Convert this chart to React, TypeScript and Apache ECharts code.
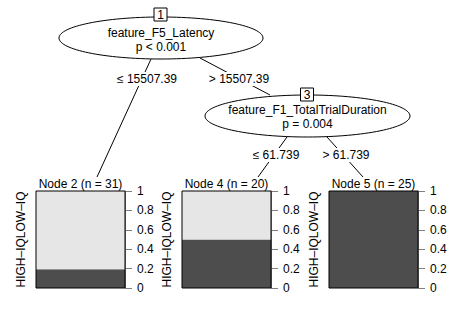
import React, { useEffect, useRef } from 'react';
import * as echarts from 'echarts';

// ---- data ----
const leafTitles = ['Node 2 (n = 31)', 'Node 4 (n = 20)', 'Node 5 (n = 25)'];
const classAxisLabel = 'HIGH–IQLOW–IQ';
const highIQ = [0.194, 0.5, 1.0];
const lowIQ = [0.806, 0.5, 0.0];
const innerIds = ['1', '3'];
const innerVars = ['feature_F5_Latency', 'feature_F1_TotalTrialDuration'];
const innerP = ['p < 0.001', 'p = 0.004'];
const splitLabels = ['≤ 15507.39', '> 15507.39', '≤ 61.739', '> 61.739'];

const FONT = '"Liberation Sans", Arial, Helvetica, sans-serif';
const DARK = '#4D4D4D';
const LIGHT = '#E6E6E6';

const gridLefts = [36, 182, 329];
const GRID_TOP = 191;
const GRID_W = 89;
const GRID_H = 97;

function txt(text: string, x: number, y: number, extra: any = {}) {
  return {
    type: 'text',
    x,
    y,
    z: 20,
    ...extra,
    style: {
      text,
      fill: '#000',
      fontSize: 12,
      fontFamily: FONT,
      align: 'center',
      verticalAlign: 'middle',
      ...(extra.style || {}),
    },
  };
}

export default function App() {
  const ref = useRef<HTMLDivElement>(null);
  useEffect(() => {
    if (!ref.current) return;
    const chart = echarts.init(ref.current, undefined, { renderer: 'svg' });

    const grids = gridLefts.map((l) => ({
      left: l,
      top: GRID_TOP,
      width: GRID_W,
      height: GRID_H,
      show: true,
      z: 10,
      borderColor: '#000',
      borderWidth: 1,
      backgroundColor: 'transparent',
    }));
    const xAxes = gridLefts.map((_, i) => ({
      type: 'category',
      gridIndex: i,
      data: [leafTitles[i]],
      show: false,
    }));
    const yAxes = gridLefts.map((_, i) => ({
      type: 'value',
      gridIndex: i,
      position: 'right',
      min: 0,
      max: 1,
      interval: 0.2,
      splitLine: { show: false },
      axisLine: { show: true, lineStyle: { color: '#808080', width: 1 } },
      axisTick: { show: true, length: 7, lineStyle: { color: '#808080' } },
      axisLabel: { margin: 12, color: '#000', fontSize: 12, fontFamily: FONT },
    }));
    const series: any[] = [];
    gridLefts.forEach((_, i) => {
      series.push({
        type: 'bar',
        name: 'HIGH-IQ',
        xAxisIndex: i,
        yAxisIndex: i,
        stack: 's' + i,
        barCategoryGap: '0%',
        data: [highIQ[i]],
        itemStyle: { color: DARK },
      });
      series.push({
        type: 'bar',
        name: 'LOW-IQ',
        xAxisIndex: i,
        yAxisIndex: i,
        stack: 's' + i,
        barCategoryGap: '0%',
        data: [lowIQ[i]],
        itemStyle: { color: LIGHT },
      });
    });

    const line = (x1: number, y1: number, x2: number, y2: number) => ({
      type: 'line',
      z: 5,
      shape: { x1, y1, x2, y2 },
      style: { stroke: '#000', lineWidth: 1 },
    });
    const ellipse = (cx: number, cy: number, rx: number, ry: number) => ({
      type: 'ellipse',
      z: 8,
      shape: { cx, cy, rx, ry },
      style: { fill: '#fff', stroke: '#000', lineWidth: 1 },
    });
    const idBox = (cx: number, cy: number) => ({
      type: 'rect',
      z: 9,
      shape: { x: cx - 6.5, y: cy - 6.5, width: 13, height: 13 },
      style: { fill: '#fff', stroke: '#000', lineWidth: 1 },
    });
    const edgeLabel = (t: string, x: number, y: number) =>
      txt(t, x, y, { z: 15, style: { backgroundColor: '#fff', padding: [1, 1] } });

    const graphic: any[] = [
      // edges
      line(151, 59, 97, 177),
      line(200, 58, 270, 95),
      line(287, 137, 258, 177),
      line(327, 137, 363, 177),
      // inner node 1
      ellipse(161, 38, 102, 21),
      idBox(160.5, 14.5),
      txt(innerIds[0], 160.5, 15),
      txt(innerVars[0], 161, 33),
      txt(innerP[0], 161, 47),
      // inner node 3
      ellipse(307.5, 116, 102.5, 21),
      idBox(307, 94.5),
      txt(innerIds[1], 307, 95),
      txt(innerVars[1], 307.5, 110),
      txt(innerP[1], 307.5, 124),
      // split labels
      edgeLabel(splitLabels[0], 147, 79),
      edgeLabel(splitLabels[1], 239, 79),
      edgeLabel(splitLabels[2], 276, 155),
      edgeLabel(splitLabels[3], 346, 155),
    ];
    gridLefts.forEach((l, i) => {
      graphic.push(txt(leafTitles[i], l + GRID_W / 2, 184));
      graphic.push(
        txt(classAxisLabel, l - 15, GRID_TOP + GRID_H / 2, { rotation: Math.PI / 2 })
      );
    });

    chart.setOption({
      animation: false,
      backgroundColor: '#fff',
      grid: grids,
      xAxis: xAxes,
      yAxis: yAxes,
      series,
      graphic,
    });
    return () => chart.dispose();
  }, []);
  return (
    <div
      ref={ref}
      style={{ position: 'fixed', left: 0, top: 0, width: 468, height: 324 }}
    />
  );
}
